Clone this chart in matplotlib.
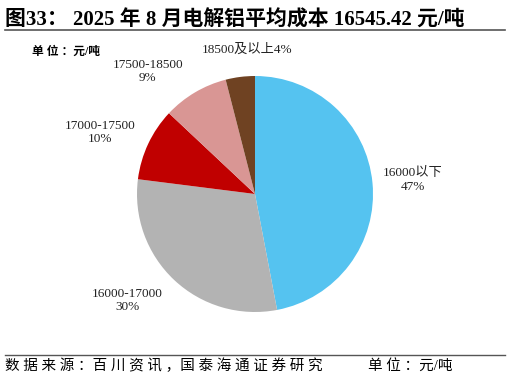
import matplotlib
matplotlib.use("Agg")
import matplotlib.pyplot as plt

plt.rcParams['font.family'] = ['Liberation Serif', 'Noto Sans CJK SC']

# 数据
categories = ['16000以下', '16000-17000', '17000-17500', '17500-18500', '18500及以上']
shares = [47, 30, 10, 9, 4]
colors = ['#55C3F0', '#B3B3B3', '#C00000', '#D99694', '#6F4222']
label_pos = [(1.34, 0.12), (-1.08, -0.90), (-1.31, 0.52), (-0.91, 1.04), (-0.07, 1.22)]

W, H = 510, 383
fig = plt.figure(figsize=(W / 100, H / 100), dpi=100)


def spaced(s):
    # 字间距 (斜杠与冒号后不加)
    out = ''
    for i, ch in enumerate(s):
        out += ch
        if i < len(s) - 1 and ch not in '：/，' and s[i + 1] != '/':
            out += ' '
    return out


# 饼图位置: 圆心 (255,194) 半径 118 像素
cx, cy, r = 255, 194, 118
ax = fig.add_axes([(cx - r) / W, (H - cy - r) / H, 2 * r / W, 2 * r / H])
ax.pie(shares, colors=colors, startangle=90, counterclock=False, radius=1,
       wedgeprops=dict(linewidth=0))
ax.set_xlim(-1, 1)
ax.set_ylim(-1, 1)
ax.set_aspect('equal')
ax.axis('off')

for cat, val, (x, y) in zip(categories, shares, label_pos):
    if cat == '18500及以上':
        txt = f'{cat}{val}%'
    else:
        txt = f'{cat}\n{val}%'
    ax.text(x, y, txt, ha='center', va='center', fontsize=9.5,
            linespacing=1.15, clip_on=False, color='#222222')

# 标题
fig.text(5 / W, 1 - 20 / H, '图33： 2025 年 8 月电解铝平均成本 16545.42 元/吨',
         fontsize=15, fontweight='bold', ha='left', va='center')
fig.add_artist(plt.Line2D([5 / W, 505 / W], [1 - 29.5 / H] * 2,
                          color='#555555', linewidth=1.2))

fig.text(32 / W, 1 - 52 / H, spaced('单位：元/吨'), fontsize=8.5, fontweight='bold',
         ha='left', va='center')

# 底部
fig.add_artist(plt.Line2D([5 / W, 505 / W], [1 - 355 / H] * 2,
                          color='#555555', linewidth=1.0))
fig.text(5 / W, 1 - 366 / H, spaced('数据来源：百川资讯，国泰海通证券研究'),
         fontsize=10.5, ha='left', va='center')
fig.text(368 / W, 1 - 366 / H, spaced('单位：元/吨'), fontsize=10.5, ha='left', va='center')

fig.savefig('out.png', dpi=100)
